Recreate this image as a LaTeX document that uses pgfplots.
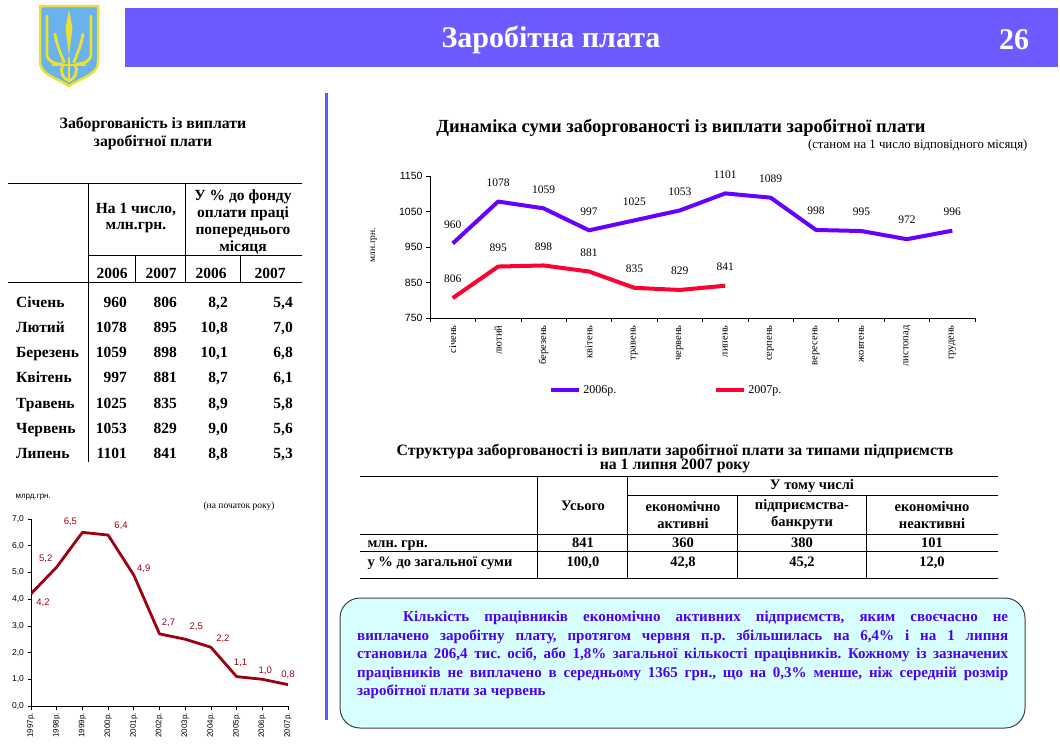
\documentclass[border=0pt]{standalone}
\usepackage{pgfplots}
\pgfplotsset{compat=1.18}
\usepackage{fontspec}
\setmainfont{Liberation Serif}
\newfontfamily\arial{Liberation Sans}
\frenchspacing

\definecolor{headbar}{RGB}{108,92,255}
\definecolor{divider}{RGB}{90,90,255}
\definecolor{line06}{RGB}{102,0,255}
\definecolor{line07}{RGB}{255,0,51}
\definecolor{maroon}{RGB}{155,0,20}
\definecolor{boxfill}{RGB}{215,255,255}
\definecolor{boxtext}{RGB}{75,0,240}
\definecolor{shieldblue}{RGB}{105,178,235}
\definecolor{gold}{RGB}{235,225,50}

\newcommand{\fs}[2]{\fontsize{#1}{#2}\selectfont}
% one row of the left table: baseline, month, four values
\newcommand{\trow}[6]{%
  \node[anchor=base west,inner sep=0] at (16,#1) {#2};
  \node[anchor=base east,inner sep=0] at (127,#1) {#3};
  \node[anchor=base east,inner sep=0] at (177,#1) {#4};
  \node[anchor=base east,inner sep=0] at (228,#1) {#5};
  \node[anchor=base east,inner sep=0] at (293,#1) {#6};}

\begin{document}
\begin{tikzpicture}[x=1pt,y=-1pt]
\fill[white] (0,0) rectangle (1060,745);

% coat of arms
\fill[shieldblue,draw=gold,line width=2.5pt] (40,6) -- (98,6) -- (98,62)
  .. controls (98,75) and (80,78) .. (69,86)
  .. controls (58,78) and (40,75) .. (40,62) -- cycle;
\fill[gold] (69,10) -- (72.5,28) -- (69,56) -- (65.5,28) -- cycle;
\begin{scope}[gold,line width=2.8pt,line cap=round]
  \draw (47,16) -- (47,54) .. controls (47,61) and (54,64) .. (62,64);
  \draw (91,16) -- (91,54) .. controls (91,61) and (84,64) .. (76,64);
  \draw (55,34) .. controls (57,46) and (61,54) .. (64,62);
  \draw (83,34) .. controls (81,46) and (77,54) .. (74,62);
  \draw (53,65) -- (85,65);
  \draw (63,65) .. controls (59,73) and (64,79) .. (69,81)
        .. controls (74,79) and (79,73) .. (75,65);
  \draw (69,58) -- (69,81);
\end{scope}

% header
\fill[headbar] (125,8) rectangle (1058,67);
\node[text=white,font=\fs{30}{30}\bfseries] at (551,40) {Заробітна плата};
\node[text=white,font=\fs{30}{30}\bfseries] at (1014,40) {26};
\draw[divider,line width=3pt] (326,93) -- (326,720);

% left table
\node[align=center,font=\fs{15.8}{18}\bfseries] at (153,134)
  {Заборгованість із виплати\\заробітної плати};
\begin{scope}[line width=0.8pt]
  \draw (8,183) -- (302,183);
  \draw (88,255) -- (302,255);
  \draw (8,282) -- (302,282);
  \draw (88,183) -- (88,462);
  \draw (185,183) -- (185,282);
  \draw (135,255) -- (135,282);
  \draw (240,255) -- (240,282);
\end{scope}
\begin{scope}[font=\fs{15.5}{16.7}\bfseries]
  \node[align=center] at (136,218) {На 1 число,\\млн.грн.};
  \node[align=center] at (243,222) {У \% до фонду\\оплати праці\\попереднього\\місяця};
  \node at (112,273) {2006};
  \node at (161,273) {2007};
  \node at (211,273) {2006};
  \node at (270,273) {2007};
  \trow{307}{Січень}{960}{806}{8,2}{5,4}
  \trow{332.3}{Лютий}{1078}{895}{10,8}{7,0}
  \trow{357.5}{Березень}{1059}{898}{10,1}{6,8}
  \trow{382.8}{Квітень}{997}{881}{8,7}{6,1}
  \trow{408}{Травень}{1025}{835}{8,9}{5,8}
  \trow{433.3}{Червень}{1053}{829}{9,0}{5,6}
  \trow{458.5}{Липень}{1101}{841}{8,8}{5,3}
\end{scope}

% top right chart
\node[font=\fs{18.5}{18.5}\bfseries] at (681,128)
  {Динаміка суми заборгованості із виплати заробітної плати};
\node[anchor=east,font=\fs{12.8}{12.8}] at (1031,145)
  {(станом на 1 число відповідного місяця)};
\node[rotate=90,font=\fs{9.5}{9.5}] at (374,245) {млн.грн.};

\begin{axis}[
    at={(430pt,-318pt)}, anchor=south west,
    scale only axis, width=545pt, height=142pt,
    xmin=-0.5, xmax=11.5, ymin=750, ymax=1150,
    axis x line*=bottom, axis y line*=left,
    axis line style={line width=0.8pt},
    tick align=outside, major tick length=4pt,
    tick style={black,line width=0.6pt},
    xtick={-0.5,0.5,...,11.5},
    x tick label as interval,
    xticklabels={січень,лютий,березень,квітень,травень,червень,
                 липень,серпень,вересень,жовтень,листопад,грудень},
    x tick label style={rotate=90,anchor=east,font=\fs{10.5}{10.5}},
    ytick={750,850,...,1150},
    y tick label style={font=\arial\fs{10.5}{10.5}},
    /pgf/number format/assume math mode=true,
    /pgf/number format/1000 sep={},
    every node near coord/.append style={anchor=center,yshift=19pt,
      text=black,font=\fs{11.5}{11.5}},
    legend columns=2,
    legend style={draw=none,fill=none,at={(0.2185,-0.507)},anchor=west,
      inner sep=0pt,font=\fs{12}{12},
      /tikz/every even column/.append style={column sep=96pt}},
    legend image code/.code={\draw[#1,line width=4pt] (0pt,0pt) -- (28pt,0pt);},
  ]
  \addplot[line06,line width=4pt,line join=round,nodes near coords] coordinates {
    (0,960) (1,1078) (2,1059) (3,997) (4,1025) (5,1053)
    (6,1101) (7,1089) (8,998) (9,995) (10,972) (11,996)
  };
  \addplot[line07,line width=4pt,line join=round,nodes near coords] coordinates {
    (0,806) (1,895) (2,898) (3,881) (4,835) (5,829) (6,841)
  };
  \legend{2006р.,2007р.}
\end{axis}

% bottom left chart
\node[anchor=west,font=\arial\fs{8}{8}] at (12,497) {млрд.грн.};
\node[font=\fs{9.5}{9.5}] at (239,506) {(на початок року)};
\begin{axis}[
    at={(31pt,-706pt)}, anchor=south west,
    scale only axis, width=257pt, height=187pt,
    xmin=1997, xmax=2007, ymin=0, ymax=7,
    axis x line*=bottom, axis y line*=left,
    axis line style={line width=0.8pt},
    tick align=outside, major tick length=3.5pt,
    tick style={black,line width=0.6pt},
    xtick={1997,...,2007},
    xticklabels={1997р.,1998р.,1999р.,2000р.,2001р.,2002р.,
                 2003р.,2004р.,2005р.,2006р.,2007р.},
    x tick label style={rotate=90,anchor=east,font=\arial\fs{8}{8}},
    ytick={0,...,7},
    y tick label style={/pgf/number format/.cd,fixed,fixed zerofill,
      precision=1,use comma,assume math mode=true,/tikz/.cd,
      font=\arial\fs{8.5}{8.5}},
  ]
  \addplot[maroon,line width=2.8pt,line join=round,
    nodes near coords,point meta=explicit symbolic,
    visualization depends on={\thisrow{dx} \as \dx},
    visualization depends on={\thisrow{dy} \as \dy},
    every node near coord/.append style={anchor=center,text=maroon,
      font=\arial\fs{9.5}{9.5},xshift=\dx pt,yshift=\dy pt}]
    table[x=x,y=y,meta=lbl] {
    x    y   dx  dy  lbl
    1997 4.2 12  -9  4,2
    1998 5.2 -11 8   5,2
    1999 6.5 -12 11  6,5
    2000 6.4 13  9   6,4
    2001 4.9 10  6   4,9
    2002 2.7 9   11  2,7
    2003 2.5 11  12  2,5
    2004 2.2 12  8   2,2
    2005 1.1 4   14  1,1
    2006 1.0 3   9   1,0
    2007 0.8 0   10  0,8
  };
\end{axis}

% bottom right table
\node[align=center,font=\fs{15.8}{14}\bfseries] at (675,459)
  {Структура заборгованості із виплати заробітної плати за типами підприємств\\на 1 липня 2007 року};
\begin{scope}[line width=0.8pt]
  \draw (360,476) -- (998,476);
  \draw (627,495) -- (998,495);
  \draw (360,534) -- (998,534);
  \draw (360,551) -- (998,551);
  \draw (360,578) -- (998,578);
  \draw (537,476) -- (537,578);
  \draw (627,476) -- (627,578);
  \draw (737,495) -- (737,578);
  \draw (866,495) -- (866,578);
\end{scope}
\begin{scope}[font=\fs{14.5}{17}\bfseries]
  \node at (812,486) {У тому числі};
  \node at (583,506) {Усього};
  \node[align=center] at (683,515) {економічно\\активні};
  \node[align=center] at (802,515) {підприємства-\\банкрути};
  \node[align=center] at (932,515) {економічно\\неактивні};
  \begin{scope}[every node/.style={text height=10pt,text depth=3pt}]
    \node[anchor=west] at (364,543.5) {млн. грн.};
    \node at (583,543.5) {841};
    \node at (683,543.5) {360};
    \node at (802,543.5) {380};
    \node at (932,543.5) {101};
    \node[anchor=west] at (364,563) {у \% до загальної суми};
    \node at (583,563) {100,0};
    \node at (683,563) {42,8};
    \node at (802,563) {45,2};
    \node at (932,563) {12,0};
  \end{scope}
\end{scope}

% note box
\draw[rounded corners=20pt,fill=boxfill,draw=black!75,line width=1pt]
  (340,598) rectangle (1025,728);
\node[anchor=north west,inner sep=0pt,text width=651pt,align=justify,
  font=\fs{15}{18.5}\bfseries\frenchspacing,text=boxtext] at (357,611)
  {\hspace*{46pt}Кількість працівників економічно активних підприємств, яким своєчасно не\linebreak
   виплачено заробітну плату, протягом червня п.р. збільшилась на 6,4\% і на 1 липня\linebreak
   становила 206,4 тис. осіб, або 1,8\% загальної кількості працівників. Кожному із зазначених\linebreak
   працівників не виплачено в середньому 1365 грн., що на 0,3\% менше, ніж середній розмір\linebreak
   заробітної плати за червень};
\end{tikzpicture}
\end{document}
